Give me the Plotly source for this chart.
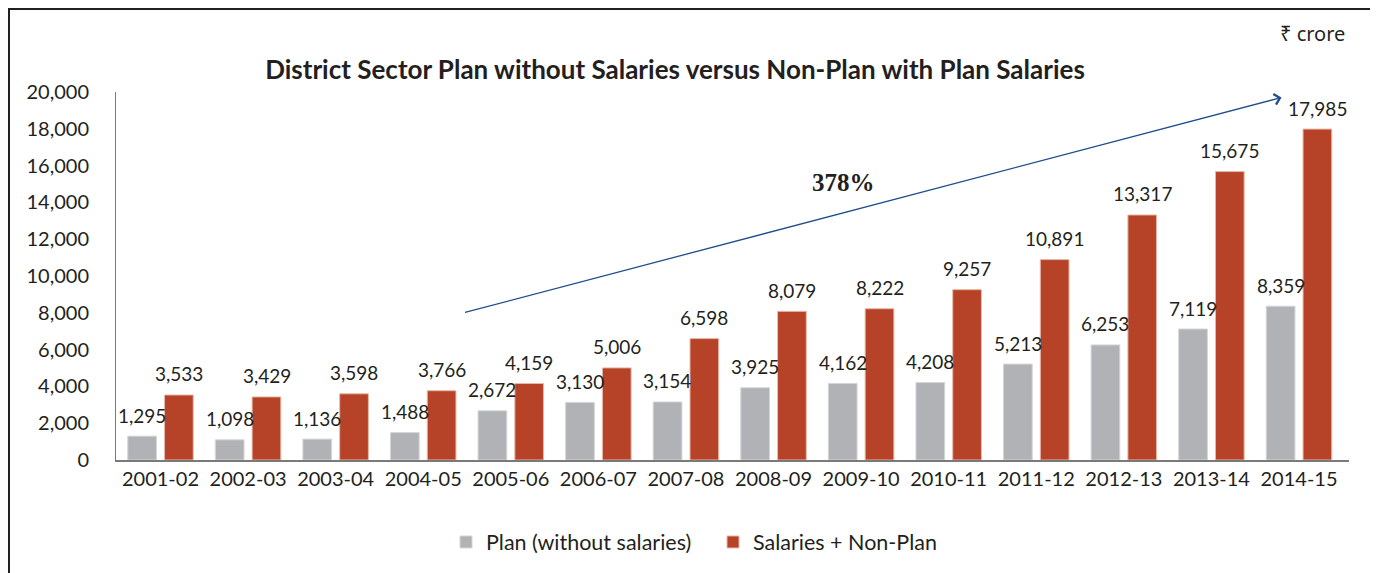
import plotly.graph_objects as go

years = ["2001-02", "2002-03", "2003-04", "2004-05", "2005-06", "2006-07", "2007-08",
         "2008-09", "2009-10", "2010-11", "2011-12", "2012-13", "2013-14", "2014-15"]
plan = [1295, 1098, 1136, 1488, 2672, 3130, 3154, 3925, 4162, 4208, 5213, 6253, 7119, 8359]
salaries = [3533, 3429, 3598, 3766, 4159, 5006, 6598, 8079, 8222, 9257, 10891, 13317, 15675, 17985]
y_ticks = [0, 2000, 4000, 6000, 8000, 10000, 12000, 14000, 16000, 18000, 20000]

TXT = "#231F20"
GRAY = "#B1B2B6"
RED = "#B64227"
FONT = "Lato"

W, H = 1368, 565          # page body has an 8px margin
L, R, T, B = 108, 27, 84, 113
PW, PH = W - L - R, H - T - B

fig = go.Figure()
fig.add_trace(go.Bar(
    x=years, y=plan, name="Plan (without salaries)",
    marker=dict(color=GRAY, line=dict(color="#D4D5D8", width=1)),
))
fig.add_trace(go.Bar(
    x=years, y=salaries, name="Salaries + Non-Plan",
    marker=dict(color=RED, line=dict(color="#E8B8A8", width=1)),
))

# value labels above each bar
slot = PW / len(years) * (1 - 0.16) / 2
for series, side in ((plan, -1), (salaries, 1)):
    for yr, v in zip(years, series):
        fig.add_annotation(x=yr, y=v, xref="x", yref="y", text=f"{v:,}", showarrow=False,
                           xshift=side * slot / 2, yshift=21, yanchor="middle",
                           font=dict(family=FONT, size=19, color=TXT))

fig.update_layout(
    width=W, height=H,
    margin=dict(l=L, r=R, t=T, b=B, autoexpand=False),
    paper_bgcolor="white", plot_bgcolor="white",
    barmode="group", bargap=0.16, bargroupgap=0.22,
    showlegend=True,
    legend=dict(orientation="h", x=(446 - 8 - L) / PW, xanchor="left",
                y=(H - B - (542 - 8)) / PH, yanchor="middle",
                font=dict(family=FONT, size=21.5, color=TXT), traceorder="normal",
                itemwidth=30, entrywidth=222, entrywidthmode="pixels"),
    title=dict(text="<b>District Sector Plan without Salaries versus Non-Plan with Plan Salaries</b>",
               x=(675 - 8) / W, xanchor="center", xref="container",
               y=1 - (70 - 8) / H, yanchor="middle", yref="container",
               font=dict(family=FONT, size=26, color=TXT)),
    xaxis=dict(type="category", showline=True, linecolor="#7A7A7A", linewidth=1.5, ticks="",
               showgrid=False, tickfont=dict(family=FONT, size=20, color=TXT)),
    yaxis=dict(range=[0, 20000], tickvals=y_ticks, tickformat=",d",
               showline=True, linecolor="#7A7A7A", linewidth=1, ticks="",
               showgrid=False, zeroline=False, ticklabelstandoff=22,
               tickfont=dict(family=FONT, size=20, color=TXT)),
)

# outer frame (top edge at the very top of the figure, bottom edge below the view)
fig.add_shape(type="rect", xref="paper", yref="paper",
              x0=(1 - L) / PW, x1=(1366 - L) / PW,
              y0=(H - B - 620) / PH, y1=(H - B - 1) / PH,
              line=dict(color="#231F20", width=2), fillcolor="rgba(0,0,0,0)")

# growth arrow
fig.add_annotation(x=12.8, y=19700, ax=3.46, ay=8000, xref="x", yref="y", axref="x", ayref="y",
                   text="", showarrow=True, arrowhead=4, arrowsize=1.6, arrowwidth=1.3,
                   arrowcolor="#1F4E8C")
fig.add_annotation(x=7.8, y=15100, xref="x", yref="y", text="<b>378%</b>", showarrow=False,
                   font=dict(family="Liberation Serif", size=25, color=TXT))

fig.add_annotation(x=(1347 - 8 - L) / PW, y=(H - B - (33 - 8)) / PH, xref="paper", yref="paper",
                   xanchor="right", yanchor="middle", text="₹ crore", showarrow=False,
                   font=dict(family="Noto Sans", size=20, color=TXT))

fig.write_html("out.html")
